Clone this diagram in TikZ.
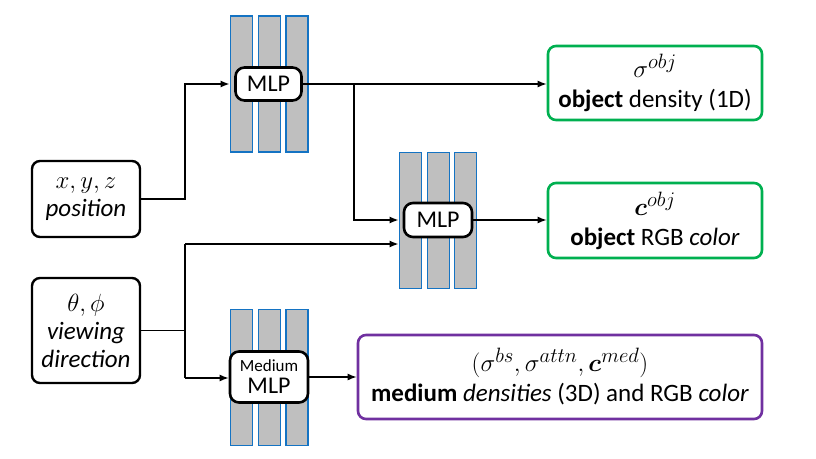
\documentclass[tikz,border=0pt]{standalone}
\usepackage{fontspec}
\setmainfont{Carlito}
\usepackage{amsmath}
\usepackage{bm}
\usetikzlibrary{arrows.meta}
\DeclareMathSizes{25}{26}{20}{16}
\definecolor{barblue}{RGB}{20,115,195}
\definecolor{bargray}{RGB}{191,191,191}
\definecolor{boxgreen}{RGB}{0,176,80}
\definecolor{boxpurple}{RGB}{112,48,160}
\tikzset{
  bar/.style={draw=barblue, fill=bargray, line width=1.8pt, minimum width=22pt, minimum height=136pt, inner sep=0pt},
  mlp/.style={draw=black, fill=white, rounded corners=9pt, line width=2.6pt, inner sep=0pt, align=center, font=\fontsize{24}{24}\selectfont},
  inbox/.style={draw=black, rounded corners=8pt, line width=2.4pt, inner sep=0pt, align=center, minimum width=108pt, font=\fontsize{25}{28}\selectfont},
  outbox/.style={rounded corners=8pt, line width=2.6pt, inner sep=0pt, align=center, font=\fontsize{25}{30}\selectfont},
  line/.style={line width=1.5pt},
  conn/.style={line width=1.5pt, -{Latex[length=9pt,width=7pt]}}
}
\begin{document}
\begin{tikzpicture}[x=1pt,y=-1pt]
\useasboundingbox (0,0) rectangle (816,458);
% stacks
\node[bar] (b1a) at (241.5,84) {};
\node[bar] (b1b) at (269.5,84) {};
\node[bar] (b1c) at (297,84) {};
\node[bar] (b2a) at (410.5,220.5) {};
\node[bar] (b2b) at (438.5,220.5) {};
\node[bar] (b2c) at (465.5,220.5) {};
\node[bar] (b3a) at (241.5,377.5) {};
\node[bar] (b3b) at (269.5,377.5) {};
\node[bar] (b3c) at (297,377.5) {};
% MLPs
\node[mlp, minimum width=66pt, minimum height=33pt] (mlp1) at (268.5,84) {MLP};
\node[mlp, minimum width=68pt, minimum height=34pt] (mlp2) at (438,220) {MLP};
\node[mlp, minimum width=78pt, minimum height=51pt] (mlp3) at (269,377) {{\fontsize{17}{17}\selectfont Medium}\\[-2pt]MLP};
% inputs
\node[inbox, minimum height=76pt] (pos) at (86,199) {$x,y,z$\\\textit{position}};
\node[inbox, minimum height=105pt] (dir) at (86,330.5) {$\theta,\phi$\\\textit{viewing}\\\textit{direction}};
% outputs
\node[outbox, draw=boxgreen, minimum width=214pt, minimum height=74pt] (out1) at (655,83) {$\sigma^{obj}$\\\textbf{object} density (1D)};
\node[outbox, draw=boxgreen, minimum width=214pt, minimum height=75pt] (out2) at (655,220.5) {$\bm{c}^{obj}$\\\textbf{object} RGB \textit{color}};
\node[outbox, draw=boxpurple, minimum width=404pt, minimum height=84pt] (out3) at (560,377) {$(\sigma^{bs},\sigma^{attn},\bm{c}^{med})$\\\textbf{medium} \textit{densities} (3D) and RGB \textit{color}};
% connectors
\coordinate (j1) at (185,84);
\coordinate (j2) at (354,84);
\coordinate (j3) at (185,244);
\coordinate (j4) at (185,378);
\draw[conn] (pos.east) -| (j1) -- (j1 -| b1a.west);
\draw[conn] (mlp1.east) -- (mlp1.east -| out1.west);
\draw[conn] (j2) |- (mlp2.west -| b2a.west);
\draw[conn] (mlp2.east) -- (mlp2.east -| out2.west);
\draw[line] (dir.east) -- (dir.east -| j3);
\draw[line] (j3) -- (j4);
\draw[conn] (j3) -- (j3 -| b2a.west);
\draw[conn] (j4) -- (j4 -| mlp3.west);
\draw[conn] (mlp3.east) -- (mlp3.east -| out3.west);
\end{tikzpicture}
\end{document}
